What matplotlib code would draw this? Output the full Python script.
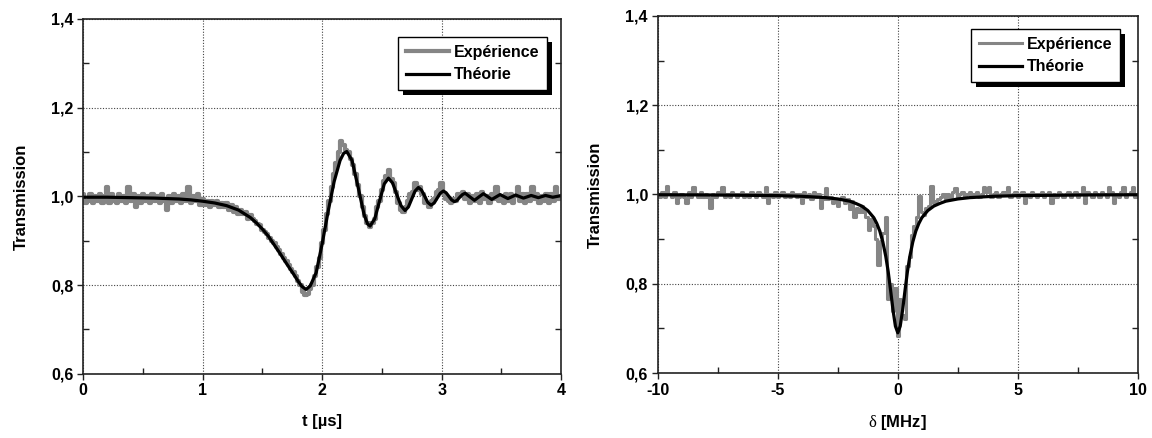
import matplotlib
matplotlib.use('Agg')
import matplotlib.pyplot as plt
from matplotlib.patches import Rectangle
from matplotlib.ticker import MultipleLocator, FuncFormatter
from matplotlib.transforms import IdentityTransform

plt.rcParams['font.family'] = ['Liberation Sans', 'DejaVu Sans']
plt.rcParams['mathtext.fontset'] = 'custom'
plt.rcParams['mathtext.it'] = 'Liberation Serif'
plt.rcParams['mathtext.rm'] = 'Liberation Serif'

# ---- left panel : transmission vs time (us) ----
t_theo = [0.0, 0.2, 0.4, 0.6, 0.8, 0.9, 1.0, 1.1, 1.2, 1.3, 1.4, 1.45, 1.5, 1.55,
          1.6, 1.65, 1.7, 1.75, 1.8, 1.83, 1.865, 1.9, 1.95, 2.0, 2.05, 2.1, 2.15,
          2.18, 2.206, 2.25, 2.3, 2.35, 2.38, 2.401, 2.44, 2.48, 2.52, 2.555,
          2.59, 2.625, 2.66, 2.694, 2.722, 2.75, 2.778, 2.806, 2.832, 2.859,
          2.885, 2.912, 2.938, 2.963, 2.989, 3.015, 3.038, 3.061, 3.084, 3.107,
          3.13, 3.152, 3.175, 3.197, 3.236, 3.275, 3.312, 3.35, 3.385, 3.42,
          3.455, 3.49, 3.522, 3.555, 3.588, 3.62, 3.652, 3.685, 3.718, 3.75,
          3.78, 3.81, 3.84, 3.87, 3.90, 3.93, 3.96, 3.99, 4.0]
T_theo = [0.998, 0.998, 0.997, 0.996, 0.994, 0.992, 0.989, 0.985, 0.979, 0.969,
          0.952, 0.940, 0.926, 0.910, 0.890, 0.870, 0.849, 0.829, 0.808, 0.797,
          0.790, 0.798, 0.828, 0.893, 0.966, 1.033, 1.081, 1.097, 1.101, 1.081,
          1.022, 0.960, 0.938, 0.933, 0.949, 0.989, 1.028, 1.041, 1.030, 1.004,
          0.979, 0.968, 0.976, 0.994, 1.012, 1.020, 1.014, 1.000, 0.986, 0.980,
          0.985, 0.996, 1.007, 1.012, 1.008, 1.000, 0.992, 0.988, 0.991, 0.998,
          1.004, 1.007, 0.999, 0.991, 0.9985, 1.006, 0.9995, 0.993, 0.9985,
          1.004, 0.9995, 0.995, 0.999, 1.003, 0.9995, 0.996, 0.999, 1.002,
          0.9995, 0.997, 0.9995, 1.002, 1.0, 0.998, 0.9995, 1.001, 1.001]

t_exp = [i * 0.02 for i in range(201)]
T_exp = [1.005, 0.985, 0.99, 1.005, 0.985, 1.0, 0.99, 1.005, 0.985, 1.0,
         1.02, 0.985, 1.005, 0.99, 0.985, 1.005, 0.99, 1.0, 0.985, 1.02,
         0.99, 1.005, 0.975, 1.0, 0.985, 1.005, 0.99, 1.0, 0.985, 1.005,
         0.99, 1.0, 0.985, 1.005, 0.99, 0.97, 1.0, 0.985, 1.005, 0.99,
         1.0, 0.985, 1.005, 0.99, 1.02, 0.985, 1.0, 0.99, 1.005, 0.98,
         0.995, 0.98, 0.99, 0.975, 0.99, 0.98, 0.99, 0.975, 0.985, 0.975,
         0.985, 0.97, 0.98, 0.965, 0.975, 0.96, 0.97, 0.96, 0.965, 0.95,
         0.958, 0.95, 0.945, 0.938, 0.935, 0.925, 0.92, 0.915, 0.905, 0.9,
         0.895, 0.885, 0.88, 0.87, 0.86, 0.855, 0.845, 0.835, 0.83, 0.82,
         0.81, 0.8, 0.785, 0.778, 0.78, 0.79, 0.8, 0.82, 0.84, 0.86,
         0.895, 0.925, 0.96, 0.99, 1.02, 1.05, 1.075, 1.1, 1.125, 1.115,
         1.105, 1.1, 1.085, 1.07, 1.05, 1.025, 1.0, 0.975, 0.955, 0.94,
         0.93, 0.94, 0.95, 0.975, 0.99, 1.015, 1.035, 1.045, 1.06, 1.04,
         1.03, 1.01, 0.985, 0.97, 0.965, 0.975, 0.99, 1.005, 1.01, 1.03,
         1.015, 1.02, 1.005, 0.985, 0.985, 0.975, 0.99, 0.995, 1.01, 1.015,
         1.03, 1.005, 0.995, 0.99, 0.985, 0.995, 0.99, 1.005, 1.0, 1.01,
         0.995, 1.005, 0.985, 1.0, 0.99, 1.005, 0.985, 1.01, 0.995, 1.0,
         0.985, 1.005, 0.995, 1.02, 0.99, 1.0, 0.985, 1.005, 0.99, 1.005,
         0.985, 1.0, 1.02, 0.99, 1.005, 0.985, 1.005, 0.99, 1.02, 0.995,
         1.005, 0.985, 1.0, 0.99, 1.005, 0.985, 1.005, 0.99, 1.02, 0.995,
         1.0]

# ---- right panel : transmission vs detuning (MHz) ----
d_theo = [-10, -8, -6, -5, -4, -3, -2.5, -2, -1.75, -1.5, -1.25, -1.0, -0.875,
          -0.75, -0.625, -0.5, -0.4, -0.3, -0.2, -0.1, 0.0, 0.1, 0.2, 0.3, 0.4,
          0.5, 0.625, 0.75, 0.875, 1.0, 1.25, 1.5, 1.75, 2, 2.5, 3, 4, 5, 6, 8, 10]
D_theo = [0.9994, 0.999, 0.998, 0.9975, 0.996, 0.993, 0.990, 0.985, 0.980,
          0.974, 0.964, 0.948, 0.935, 0.918, 0.894, 0.861, 0.827, 0.785, 0.741,
          0.705, 0.690, 0.705, 0.741, 0.785, 0.827, 0.861, 0.894, 0.918, 0.935,
          0.948, 0.964, 0.974, 0.980, 0.985, 0.990, 0.993, 0.996, 0.9975, 0.998,
          0.999, 0.9994]

d_exp = [-10 + i * 0.1 for i in range(201)]
D_exp = [1.0, 0.995, 1.005, 0.995, 1.018, 1.0, 0.995, 1.005, 0.98, 0.995,
         1.0, 0.995, 0.98, 1.005, 0.995, 1.017, 1.0, 0.995, 1.005, 0.995,
         1.0, 0.995, 0.97, 1.0, 0.995, 1.005, 1.0, 1.017, 0.995, 1.0,
         0.995, 1.005, 1.0, 0.995, 1.0, 1.005, 0.995, 1.0, 0.995, 1.005,
         1.0, 0.995, 1.005, 1.0, 0.995, 1.017, 0.98, 1.0, 0.995, 1.005,
         0.995, 1.0, 1.005, 0.995, 1.0, 0.995, 1.005, 1.0, 0.995, 1.0,
         0.98, 1.005, 0.995, 1.0, 0.99, 1.005, 0.995, 1.0, 0.97, 0.99,
         1.015, 0.99, 0.995, 0.98, 0.99, 0.975, 0.99, 0.995, 0.98, 0.99,
         0.967, 0.985, 0.95, 0.97, 0.96, 0.975, 0.96, 0.95, 0.92, 0.945,
         0.93, 0.9, 0.843, 0.895, 0.914, 0.95, 0.765, 0.8, 0.74, 0.79,
         0.683, 0.765, 0.73, 0.72, 0.84, 0.86, 0.91, 0.93, 0.95, 0.996,
         0.96, 0.955, 0.97, 0.975, 1.02, 0.98, 0.985, 0.99, 0.995, 1.0,
         0.99, 1.0, 0.995, 1.005, 1.015, 0.995, 1.0, 1.005, 0.995, 1.0,
         1.005, 0.995, 1.0, 1.005, 0.995, 1.0, 1.017, 1.005, 1.017, 0.995,
         1.0, 1.005, 0.995, 1.0, 1.005, 1.0, 1.017, 0.995, 1.0, 1.005,
         0.995, 1.0, 1.005, 0.98, 1.0, 0.995, 1.005, 1.0, 0.995, 1.0,
         1.005, 0.995, 1.0, 1.005, 0.98, 1.0, 0.995, 1.005, 1.0, 0.995,
         1.0, 1.005, 0.995, 1.0, 1.005, 0.995, 1.0, 1.017, 0.98, 1.005,
         1.0, 0.995, 1.005, 1.0, 0.995, 1.005, 1.0, 0.995, 1.017, 1.005,
         0.98, 1.0, 0.995, 1.005, 1.017, 0.995, 1.0, 1.005, 1.017, 0.995,
         1.0]

GRAY = '#858585'

fig = plt.figure(figsize=(11.52, 4.38), dpi=100)
ax1 = fig.add_axes([0.0723, 0.1468, 0.4147, 0.8099])
ax2 = fig.add_axes([0.5709, 0.1484, 0.4169, 0.8151])


def style(ax, xlim, xmaj, xmin, xlabel):
    ax.set_xlim(*xlim)
    ax.set_ylim(0.6, 1.4)
    ax.xaxis.set_major_locator(MultipleLocator(xmaj))
    ax.xaxis.set_minor_locator(MultipleLocator(xmin))
    ax.yaxis.set_major_locator(MultipleLocator(0.2))
    ax.yaxis.set_minor_locator(MultipleLocator(0.1))
    ax.xaxis.set_major_formatter(FuncFormatter(lambda v, p: f'{v:g}'))
    ax.yaxis.set_major_formatter(
        FuncFormatter(lambda v, p: f'{v:.1f}'.replace('.', ',')))
    ax.tick_params(which='major', direction='out', length=4, width=1,
                   labelsize=11.5, pad=3, color='#222222')
    ax.tick_params(which='minor', direction='in', length=4, width=1,
                   right=True, color='#222222')
    for lab in ax.get_xticklabels() + ax.get_yticklabels():
        lab.set_fontweight('bold')
    for s in ax.spines.values():
        s.set_linewidth(1.2)
        s.set_color('#222222')
    ax.grid(True, which='major', linestyle=(0, (1, 1.5)), color='#444444',
            linewidth=0.8)
    ax.set_xlabel(xlabel, fontsize=12, fontweight='bold', labelpad=11)
    ax.set_ylabel('Transmission', fontsize=12, fontweight='bold', labelpad=16)


def legend(ax, anchor):
    leg = ax.legend(loc='upper right', bbox_to_anchor=anchor, borderaxespad=0,
                    fancybox=False, framealpha=1, edgecolor='black',
                    prop={'weight': 'bold', 'size': 11.5}, handlelength=2.7,
                    handletextpad=0.3, labelspacing=0.45, borderpad=0.5)
    leg.get_frame().set_linewidth(1.0)
    leg.set_zorder(10)
    return leg


ax1.plot(t_exp, T_exp, color=GRAY, lw=3.0, drawstyle='steps-mid',
         label='Expérience')
ax1.plot(t_theo, T_theo, color='black', lw=2.3, label='Théorie')
style(ax1, (0, 4), 1, 0.5, 't [µs]')
leg1 = legend(ax1, (0.9707, 0.949))

ax2.plot(d_exp, D_exp, color=GRAY, lw=2.2, drawstyle='steps-mid',
         label='Expérience')
ax2.plot(d_theo, D_theo, color='black', lw=2.3, label='Théorie')
style(ax2, (-10, 10), 5, 2.5, r'$\delta$ [MHz]')
leg2 = legend(ax2, (0.9625, 0.9636))

# black drop shadow behind the legend boxes
fig.canvas.draw()
for ax, leg in ((ax1, leg1), (ax2, leg2)):
    bb = leg.get_frame().get_window_extent()
    sh = Rectangle((bb.x0 + 5, bb.y0 - 5), bb.width, bb.height,
                   transform=IdentityTransform(), facecolor='black',
                   edgecolor='none', zorder=9, clip_on=False)
    ax.add_artist(sh)

fig.savefig('out.png', dpi=100, facecolor='white')
